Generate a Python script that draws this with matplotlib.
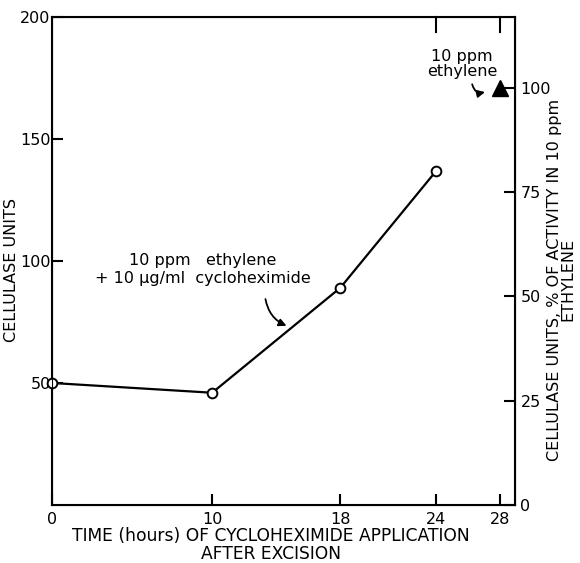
import matplotlib
matplotlib.use('Agg')
import matplotlib.pyplot as plt

plt.rcParams.update({"font.family": "DejaVu Sans", "font.size": 11})

# --- data ---
hours = [0, 10, 18, 24]
cellulase = [50, 46, 89, 137]
eth_hours = [28]
eth_pct = [100]
PCT100 = 171.0  # cellulase units equal to 100 % of activity in 10 ppm ethylene

x_ticks = [0, 10, 18, 24, 28]
y_ticks = [50, 100, 150]
pct_ticks = [0, 25, 50, 75, 100]

fig = plt.figure(figsize=(5.8, 5.63), dpi=100)
ax = fig.add_axes([0.0897, 0.103, 0.798, 0.867])

ax.plot(hours, cellulase, color='black', lw=1.6, marker='o', ms=7,
        mfc='white', mec='black', mew=1.4, clip_on=False, zorder=3)

ax.set_xlim(0, 28.9)
ax.set_ylim(0, 200)
ax.set_xticks(x_ticks)
ax.set_yticks(y_ticks + [200])
ax.set_yticklabels([str(v) for v in y_ticks] + ['200'])
ax.tick_params(direction='in', length=8, width=1.5, labelsize=11.5)
ax.tick_params(axis='y', pad=1)
ax.tick_params(axis='x', pad=5)
for s in ax.spines.values():
    s.set_linewidth(1.5)

# right axis: % of activity in 10 ppm ethylene
ax2 = ax.twinx()
ax2.set_ylim(0, 200 / PCT100 * 100)
ax2.set_yticks(pct_ticks)
ax2.tick_params(direction='in', length=8, width=1.5, labelsize=11.5, pad=4)
ax2.plot(eth_hours, eth_pct, marker='^', color='black', ms=11, ls='none', clip_on=False)

# top ticks
for xv in [24, 28]:
    ax.plot([xv, xv], [200, 194], color='black', lw=1.5, clip_on=False)

fig.text(0.019, 0.52, 'CELLULASE UNITS', rotation=90, ha='center', va='center',
         fontsize=11.5)
fig.text(0.968, 0.503, 'CELLULASE UNITS, % OF ACTIVITY IN 10 ppm\nETHYLENE',
         rotation=90, ha='center', va='center', fontsize=11.5, linespacing=0.9)
ax.set_xlabel('TIME (hours) OF CYCLOHEXIMIDE APPLICATION\nAFTER EXCISION',
              fontsize=12.3, linespacing=0.98)
ax.xaxis.set_label_coords(0.473, -0.046, transform=ax.transAxes)

ax.text(9.4, 96.5, '10 ppm   ethylene\n+ 10 \u00b5g/ml  cycloheximide', ha='center',
        va='center', fontsize=11.5, linespacing=1.25)
ax.annotate('', xy=(14.8, 73), xytext=(13.3, 85.5),
            arrowprops=dict(arrowstyle='-|>', color='black', lw=1.3,
                            connectionstyle='arc3,rad=0.3'))

ax.text(25.6, 180.5, '10 ppm\nethylene', ha='center', va='center', fontsize=11.5,
        linespacing=1.0)
ax.annotate('', xy=(27.2, 169.5), xytext=(26.2, 173.5),
            arrowprops=dict(arrowstyle='-|>', color='black', lw=1.3,
                            connectionstyle='arc3,rad=0.6'))

fig.savefig('out.png', dpi=100, facecolor='white')
